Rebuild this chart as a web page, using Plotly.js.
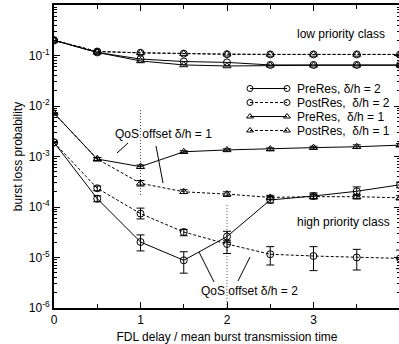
<!DOCTYPE html>
<html>
<head>
<meta charset="utf-8">
<script src="https://cdn.plot.ly/plotly-3.0.1.min.js"></script>
<style>
html,body{margin:0;padding:0;overflow:hidden;background:#fff;}
#chart{width:401px;height:344px;}
</style>
</head>
<body>
<div id="chart"></div>
<script>
// FDL delay / mean burst transmission time
const fdlDelay = [0, 0.5, 1, 1.5, 2, 2.5, 3, 3.5, 4];

// low priority class
const lowPreRes2  = [0.2, 0.115, 0.085, 0.076, 0.073, 0.065, 0.065, 0.065, 0.065];
const lowPostRes2 = [0.2, 0.12, 0.113, 0.109, 0.106, 0.105, 0.105, 0.105, 0.105];
const lowPreRes1  = [0.2, 0.115, 0.078, 0.065, 0.062, 0.064, 0.064, 0.064, 0.064];
const lowPostRes1 = [0.2, 0.12, 0.113, 0.109, 0.106, 0.105, 0.105, 0.105, 0.105];

// high priority class
const highPreRes2  = [0.0019, 1.46e-4, 2.03e-5, 8.8e-6, 2.6e-5, 1.38e-4, 1.65e-4, 2.05e-4, 2.75e-4];
const highPreRes2Hi = [0.0019, 1.67e-4, 2.8e-5, 1.3e-5, 3.3e-5, 1.6e-4, 1.9e-4, 2.5e-4, 3.1e-4];
const highPreRes2Lo = [0.0019, 1.27e-4, 1.35e-5, 4.9e-6, 2.0e-5, 1.2e-4, 1.45e-4, 1.7e-4, 2.4e-4];

const highPostRes2  = [0.0019, 2.35e-4, 7.4e-5, 3.2e-5, 1.85e-5, 1.16e-5, 1.07e-5, 1.0e-5, 9.6e-6];
const highPostRes2Hi = [0.0019, 2.6e-4, 9.5e-5, 3.6e-5, 2.2e-5, 1.64e-5, 1.64e-5, 1.45e-5, 1.4e-5];
const highPostRes2Lo = [0.0019, 2.1e-4, 5.8e-5, 2.7e-5, 1.2e-5, 7.1e-6, 5.5e-6, 5.65e-6, 6.0e-6];

const highPreRes1  = [0.0072, 8.9e-4, 6.3e-4, 1.24e-3, 1.35e-3, 1.4e-3, 1.5e-3, 1.56e-3, 1.68e-3];
const highPreRes1Hi = [0.0072, 9.5e-4, 6.8e-4, 1.3e-3, 1.42e-3, 1.48e-3, 1.6e-3, 1.7e-3, 1.8e-3];
const highPreRes1Lo = [0.0072, 8.3e-4, 5.8e-4, 1.18e-3, 1.28e-3, 1.32e-3, 1.4e-3, 1.45e-3, 1.56e-3];

const highPostRes1  = [0.0072, 8.9e-4, 2.95e-4, 2.0e-4, 1.8e-4, 1.55e-4, 1.6e-4, 1.6e-4, 1.52e-4];
const highPostRes1Hi = [0.0072, 9.5e-4, 3.35e-4, 2.2e-4, 2.0e-4, 1.7e-4, 1.78e-4, 1.78e-4, 1.68e-4];
const highPostRes1Lo = [0.0072, 8.3e-4, 2.6e-4, 1.85e-4, 1.62e-4, 1.4e-4, 1.45e-4, 1.44e-4, 1.38e-4];

// QoS offset markers (dotted verticals)
const offsetX1 = [1, 1];  const offsetY1 = [8.3e-3, 1.7e-4];
const offsetX2 = [2, 2];  const offsetY2 = [1.1e-4, 1e-6];

// tick labels
const yTickVals = [1e-6, 1e-5, 1e-4, 1e-3, 1e-2, 1e-1, 1];
const yTickText = ['10<sup>-6</sup>','10<sup>-5</sup>','10<sup>-4</sup>','10<sup>-3</sup>','10<sup>-2</sup>','10<sup>-1</sup>','10<sup>0</sup>'];
const xTickVals = [0, 1, 2, 3, 4];
const xTickText = ['0', '1', '2', '3', '4'];
const xMinorVals = [0.5, 1.5, 2.5, 3.5];

const legendLabels = ['PreRes, \u03b4/h = 2', 'PostRes,\u00a0 \u03b4/h = 2', 'PreRes,\u00a0 \u03b4/h = 1', 'PostRes,\u00a0 \u03b4/h = 1'];

// build minor log ticks
const yMinorVals = [];
for (let e = -6; e < 0; e++) for (let m = 2; m <= 9; m++) yMinorVals.push(m * Math.pow(10, e));

const FONT = 'Liberation Sans, Arial, Helvetica, sans-serif';
const styles = [
  {symbol: 'circle-open', dash: 'solid'},
  {symbol: 'circle-open', dash: '3px,2px'},
  {symbol: 'triangle-up-open', dash: 'solid'},
  {symbol: 'triangle-up-open', dash: '3px,2px'}
];

function err(val, hi, lo) {
  return {type: 'data', symmetric: false,
    array: hi.map((h, i) => h - val[i]),
    arrayminus: lo.map((l, i) => val[i] - l),
    color: '#000', thickness: 1, width: 4};
}

function series(y, st, e) {
  const t = {x: fdlDelay, y: y, type: 'scatter', mode: 'lines+markers', showlegend: false,
    line: {color: '#000', width: 1, dash: st.dash},
    marker: {symbol: st.symbol, size: 7, color: '#000', line: {color: '#000', width: 1}},
    cliponaxis: true};
  if (e) t.error_y = e;
  return t;
}

const traces = [
  {x: offsetX1, y: offsetY1, type: 'scatter', mode: 'lines', showlegend: false, line: {color: '#444', width: 1, dash: '1px,2px'}},
  {x: offsetX2, y: offsetY2, type: 'scatter', mode: 'lines', showlegend: false, line: {color: '#444', width: 1, dash: '1px,2px'}},
  series(lowPreRes2, styles[0]),
  series(lowPostRes2, styles[1]),
  series(lowPreRes1, styles[2]),
  series(lowPostRes1, styles[3]),
  series(highPreRes2, styles[0], err(highPreRes2, highPreRes2Hi, highPreRes2Lo)),
  series(highPostRes2, styles[1], err(highPostRes2, highPostRes2Hi, highPostRes2Lo)),
  series(highPreRes1, styles[2], err(highPreRes1, highPreRes1Hi, highPreRes1Lo)),
  series(highPostRes1, styles[3], err(highPostRes1, highPostRes1Hi, highPostRes1Lo))
];

// legend samples drawn on a hidden pixel-like overlay axis pair
const legRows = [88.5, 102.5, 116.5, 130.5];
legRows.forEach((ry, i) => {
  traces.push({x: [250, 287], y: [ry, ry], xaxis: 'x2', yaxis: 'y2', type: 'scatter', mode: 'lines+markers', showlegend: false,
    line: {color: '#000', width: 1, dash: styles[i].dash},
    marker: {symbol: styles[i].symbol, size: 6, color: '#000', line: {color: '#000', width: 1}}});
});
// pointer lines
const pointers = [[[117, 128], [153, 143]], [[156, 163], [146, 183]], [[199, 214], [252, 282]], [[250, 238], [257, 281]]];
pointers.forEach(p => traces.push({x: p[0], y: p[1], xaxis: 'x2', yaxis: 'y2', type: 'scatter', mode: 'lines', showlegend: false, line: {color: '#000', width: 1}}));

const annotations = legendLabels.map((t, i) => ({text: t, x: 295, y: legRows[i], xref: 'x2', yref: 'y2', xanchor: 'left', yanchor: 'middle', showarrow: false, font: {size: 12, family: FONT, color: '#000'}}));
annotations.push({text: 'QoS offset \u03b4/h = 1', x: 163.5, y: 134, xref: 'x2', yref: 'y2', xanchor: 'center', yanchor: 'middle', showarrow: false, font: {size: 12, family: FONT, color: '#000'}});
annotations.push({text: 'QoS offset \u03b4/h = 2', x: 249.5, y: 291, xref: 'x2', yref: 'y2', xanchor: 'center', yanchor: 'middle', showarrow: false, font: {size: 12, family: FONT, color: '#000'}});
annotations.push({text: 'low priority class', x: 341, y: 33.5, xref: 'x2', yref: 'y2', xanchor: 'center', yanchor: 'middle', showarrow: false, font: {size: 12, family: FONT, color: '#000'}});
annotations.push({text: 'high priority class', x: 343.5, y: 222, xref: 'x2', yref: 'y2', xanchor: 'center', yanchor: 'middle', showarrow: false, font: {size: 12, family: FONT, color: '#000'}});

const layout = {
  width: 401, height: 344,
  margin: {l: 54, r: 1, t: 5, b: 36, pad: 0},
  paper_bgcolor: '#fff', plot_bgcolor: '#fff',
  font: {family: FONT, size: 12, color: '#000'},
  showlegend: false,
  xaxis: {range: [0, 4], tickmode: 'array', tickvals: xTickVals, ticktext: xTickText,
    ticks: 'inside', ticklen: 6, tickwidth: 1, tickcolor: '#000',
    showline: true, linecolor: '#000', linewidth: 2, mirror: 'ticks', showgrid: false, zeroline: false,
    minor: {tickmode: 'array', tickvals: xMinorVals, ticks: 'inside', ticklen: 4, tickwidth: 1, tickcolor: '#000', showgrid: false},
    tickfont: {size: 12, family: FONT, color: '#000'},
    title: {text: 'FDL delay / mean burst transmission time', font: {size: 12, family: FONT, color: '#000'}, standoff: 6},
    fixedrange: true},
  yaxis: {type: 'log', range: [-6, 0], tickmode: 'array', tickvals: yTickVals, ticktext: yTickText,
    ticks: 'inside', ticklen: 6, tickwidth: 1, tickcolor: '#000',
    showline: true, linecolor: '#000', linewidth: 2, mirror: 'ticks', showgrid: false, zeroline: false,
    minor: {tickmode: 'array', tickvals: yMinorVals, ticks: 'inside', ticklen: 3, tickwidth: 1, tickcolor: '#000', showgrid: false},
    tickfont: {size: 12, family: FONT, color: '#000'},
    title: {text: 'burst loss probability', font: {size: 12, family: FONT, color: '#000'}, standoff: 4},
    fixedrange: true},
  xaxis2: {overlaying: 'x', range: [54, 400], visible: false, fixedrange: true},
  yaxis2: {overlaying: 'y', range: [308, 5], visible: false, fixedrange: true},
  annotations: annotations
};

Plotly.newPlot('chart', traces, layout, {staticPlot: true, displayModeBar: false});
</script>
</body>
</html>
